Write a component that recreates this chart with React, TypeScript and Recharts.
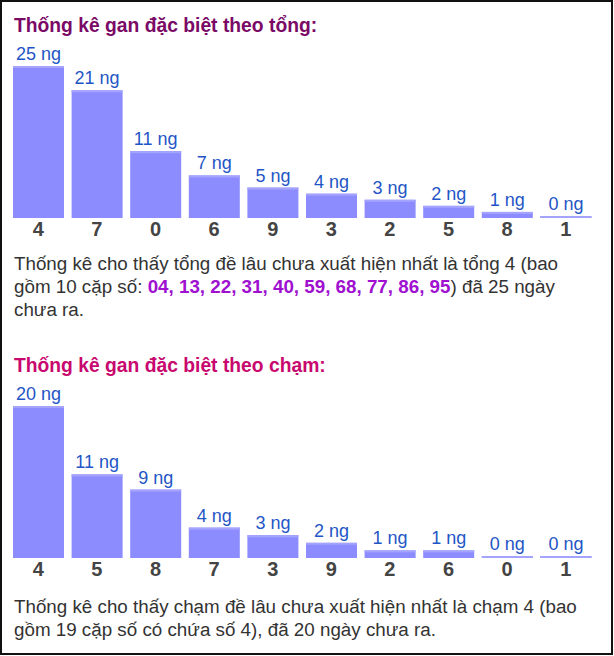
import React from 'react';
import { BarChart, Bar, XAxis, YAxis, LabelList } from 'recharts';

const tongCategories = ['4', '7', '0', '6', '9', '3', '2', '5', '8', '1'];
const tongValues = [25, 21, 11, 7, 5, 4, 3, 2, 1, 0];
const chamCategories = ['4', '5', '8', '7', '3', '9', '2', '6', '0', '1'];
const chamValues = [20, 11, 9, 4, 3, 2, 1, 1, 0, 0];
const unitSuffix = ' ng';
const tongPairs = '04, 13, 22, 31, 40, 59, 68, 77, 86, 95';

const FONT = "Arial, 'Liberation Sans', sans-serif";
const BAR_FILL = '#8c8cff';
const BAR_TOP = '#a4a4ff';
const LABEL_BLUE = '#1f56c6';

const BarShape = (props: any) => {
  const { x, y, width, height } = props;
  const bottom = y + height;
  const h = Math.max(height, 2);
  const top = bottom - h;
  return (
    <g>
      <rect x={x} y={top} width={width} height={h} fill={BAR_FILL} />
      <rect x={x} y={top} width={width} height={2} fill={BAR_TOP} />
    </g>
  );
};

const BarLabel = (props: any) => {
  const { x, y, width, height, value } = props;
  const bottom = y + height;
  const top = bottom - Math.max(height, 2);
  return (
    <text
      x={x + width / 2}
      y={top - 6}
      textAnchor="middle"
      fill={LABEL_BLUE}
      fontSize={18}
      fontFamily={FONT}
    >
      {value + unitSuffix}
    </text>
  );
};

function GanChart({ cats, vals, top }: { cats: string[]; vals: number[]; top: number }) {
  const data = cats.map((c, i) => ({ name: c, value: vals[i] }));
  return (
    <div style={{ position: 'absolute', left: 0, top }}>
      <BarChart
        width={614}
        height={248}
        data={data}
        margin={{ top: 66, right: 19, bottom: 0, left: 9 }}
        barSize={51}
      >
        <XAxis
          dataKey="name"
          axisLine={false}
          tickLine={false}
          tickSize={4}
          tickMargin={0}
          height={30}
          interval={0}
          tick={{ fill: '#444', fontSize: 20, fontWeight: 'bold', fontFamily: FONT }}
        />
        <YAxis hide domain={[0, 'dataMax']} />
        <Bar dataKey="value" isAnimationActive={false} shape={<BarShape />}>
          <LabelList dataKey="value" content={<BarLabel />} />
        </Bar>
      </BarChart>
    </div>
  );
}

const titleStyle = (top: number, color: string): React.CSSProperties => ({
  position: 'absolute',
  left: 14,
  top,
  fontFamily: FONT,
  fontWeight: 'bold',
  fontSize: 19.3,
  lineHeight: '19.3px',
  color,
  whiteSpace: 'nowrap',
  margin: 0,
});

const paraStyle = (top: number): React.CSSProperties => ({
  position: 'absolute',
  left: 14,
  top,
  fontFamily: FONT,
  fontSize: 18.8,
  lineHeight: '23px',
  color: '#333',
  whiteSpace: 'nowrap',
  margin: 0,
});

export default function App() {
  return (
    <div
      style={{
        position: 'absolute',
        left: 0,
        top: 0,
        width: 613,
        height: 655,
        boxSizing: 'border-box',
        border: '2px solid #111',
        background: '#fff',
      }}
    >
      <div style={{ position: 'absolute', left: -2, top: -2, width: 614, height: 656 }}>
        <div style={titleStyle(15.7, '#7a0a66')}>Thống kê gan đặc biệt theo tổng:</div>
        <GanChart cats={tongCategories} vals={tongValues} top={0} />
        <div style={paraStyle(252)}>
          Thống kê cho thấy tổng đề lâu chưa xuất hiện nhất là tổng 4 (bao
          <br />
          gồm 10 cặp số: <b style={{ color: '#a010d0' }}>{tongPairs}</b>) đã 25 ngày
          <br />
          chưa ra.
        </div>
        <div style={titleStyle(355.7, '#c8086e')}>Thống kê gan đặc biệt theo chạm:</div>
        <GanChart cats={chamCategories} vals={chamValues} top={340} />
        <div style={paraStyle(595)}>
          Thống kê cho thấy chạm đề lâu chưa xuất hiện nhất là chạm 4 (bao
          <br />
          gồm 19 cặp số có chứa số 4), đã 20 ngày chưa ra.
        </div>
      </div>
    </div>
  );
}
